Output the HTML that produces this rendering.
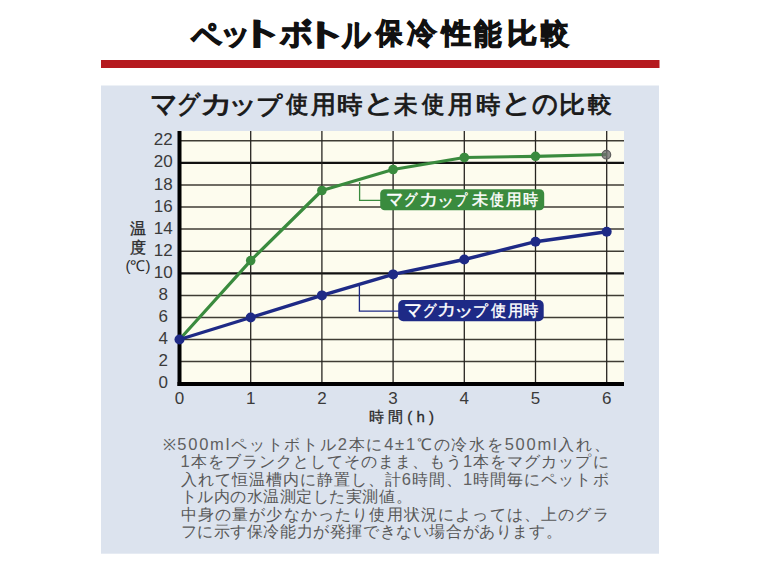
<!DOCTYPE html>
<html><head><meta charset="utf-8"><style>
html,body{margin:0;padding:0;background:#fff;}
body{width:760px;height:570px;overflow:hidden;position:relative;font-family:"Liberation Sans",sans-serif;}
svg{position:absolute;left:0;top:0;}
</style></head><body>
<svg width="760" height="570" viewBox="0 0 760 570" font-family="Liberation Sans, sans-serif">
<rect x="0" y="0" width="760" height="570" fill="#ffffff"/>
<g id="titleg"><text transform="translate(190.52 46.55) scale(0.92 1)" font-size="32.92" font-weight="bold" fill="#111" stroke="#111" stroke-width="1.2">ペ</text><text transform="translate(220.45 43.6) scale(1.014 1)" font-size="30.21" font-weight="bold" fill="#111" stroke="#111" stroke-width="1.2">ッ</text><text transform="translate(237.93 43.0) scale(1.487 1)" font-size="31.24" font-weight="bold" fill="#111" stroke="#111" stroke-width="1.2">ト</text><text transform="translate(279.7 44.1) scale(1.045 1)" font-size="30.54" font-weight="bold" fill="#111" stroke="#111" stroke-width="1.2">ボ</text><text transform="translate(301.51 43.9) scale(1.529 1)" font-size="29.98" font-weight="bold" fill="#111" stroke="#111" stroke-width="1.2">ト</text><text transform="translate(342.13 45.8) scale(0.833 1)" font-size="34.2" font-weight="bold" fill="#111" stroke="#111" stroke-width="1.2">ル</text><text transform="translate(376.41 43.25) scale(0.913 1)" font-size="29.19" font-weight="bold" fill="#111" stroke="#111" stroke-width="1.2">保</text><text transform="translate(407.3 43.25) scale(1.013 1)" font-size="29.19" font-weight="bold" fill="#111" stroke="#111" stroke-width="1.2">冷</text><text transform="translate(442.47 43.25) scale(1.037 1)" font-size="28.22" font-weight="bold" fill="#111" stroke="#111" stroke-width="1.2">性</text><text transform="translate(474.1 44.25) scale(0.947 1)" font-size="29.19" font-weight="bold" fill="#111" stroke="#111" stroke-width="1.2">能</text><text transform="translate(506.93 43.25) scale(1.074 1)" font-size="28.22" font-weight="bold" fill="#111" stroke="#111" stroke-width="1.2">比</text><text transform="translate(541.39 43.25) scale(0.99 1)" font-size="28.22" font-weight="bold" fill="#111" stroke="#111" stroke-width="1.2">較</text></g>
<rect x="101" y="60" width="558.5" height="8" fill="#b51a1f"/>
<rect x="101" y="85.5" width="558" height="468.2" fill="#dce3ee"/>
<g id="subg"><text transform="translate(150.14 114.5) scale(0.881 1)" font-size="30.97" fill="#1a1a1a" stroke="#1a1a1a" stroke-width="0.9">マ</text><text transform="translate(177.33 113.05) scale(0.884 1)" font-size="26.18" fill="#1a1a1a" stroke="#1a1a1a" stroke-width="0.9">グ</text><text transform="translate(199.89 113.0) scale(1.255 1)" font-size="26.45" fill="#1a1a1a" stroke="#1a1a1a" stroke-width="0.9">カ</text><text transform="translate(227.99 113.25) scale(1.153 1)" font-size="25.3" fill="#1a1a1a" stroke="#1a1a1a" stroke-width="0.9">ッ</text><text transform="translate(255.55 113.55) scale(1.074 1)" font-size="23.9" fill="#1a1a1a" stroke="#1a1a1a" stroke-width="0.9">プ</text><text transform="translate(285.5 112.3) scale(0.968 1)" font-size="23.0" fill="#1a1a1a" stroke="#1a1a1a" stroke-width="0.9">使</text><text transform="translate(310.6 112.8) scale(0.996 1)" font-size="25.19" fill="#1a1a1a" stroke="#1a1a1a" stroke-width="0.9">用</text><text transform="translate(337.14 113.1) scale(1.061 1)" font-size="24.25" fill="#1a1a1a" stroke="#1a1a1a" stroke-width="0.9">時</text><text transform="translate(362.58 112.05) scale(1.229 1)" font-size="26.34" fill="#1a1a1a" stroke="#1a1a1a" stroke-width="0.9">と</text><text transform="translate(393.5 113.25) scale(0.979 1)" font-size="24.36" fill="#1a1a1a" stroke="#1a1a1a" stroke-width="0.9">未</text><text transform="translate(421.6 112.3) scale(0.968 1)" font-size="23.0" fill="#1a1a1a" stroke="#1a1a1a" stroke-width="0.9">使</text><text transform="translate(448.4 112.8) scale(0.996 1)" font-size="25.19" fill="#1a1a1a" stroke="#1a1a1a" stroke-width="0.9">用</text><text transform="translate(476.29 112.85) scale(1.013 1)" font-size="24.36" fill="#1a1a1a" stroke="#1a1a1a" stroke-width="0.9">時</text><text transform="translate(501.18 111.95) scale(1.156 1)" font-size="26.56" fill="#1a1a1a" stroke="#1a1a1a" stroke-width="0.9">と</text><text transform="translate(531.55 113.05) scale(0.948 1)" font-size="27.19" fill="#1a1a1a" stroke="#1a1a1a" stroke-width="0.9">の</text><text transform="translate(558.84 112.85) scale(1.081 1)" font-size="23.52" fill="#1a1a1a" stroke="#1a1a1a" stroke-width="0.9">比</text><text transform="translate(587.6 111.85) scale(1.077 1)" font-size="22.5" fill="#1a1a1a" stroke="#1a1a1a" stroke-width="0.9">較</text></g>
<rect x="179" y="131" width="445" height="253" fill="#fdfcee"/>
<line x1="181" y1="361.6" x2="624" y2="361.6" stroke="#3f3c34" stroke-width="1.5"/><line x1="181" y1="339.5" x2="624" y2="339.5" stroke="#3f3c34" stroke-width="1.5"/><line x1="181" y1="317.5" x2="624" y2="317.5" stroke="#3f3c34" stroke-width="1.5"/><line x1="181" y1="295.4" x2="624" y2="295.4" stroke="#3f3c34" stroke-width="1.5"/><line x1="181" y1="273.3" x2="624" y2="273.3" stroke="#111" stroke-width="2.2"/><line x1="181" y1="251.2" x2="624" y2="251.2" stroke="#3f3c34" stroke-width="1.5"/><line x1="181" y1="229.1" x2="624" y2="229.1" stroke="#3f3c34" stroke-width="1.5"/><line x1="181" y1="207.1" x2="624" y2="207.1" stroke="#3f3c34" stroke-width="1.5"/><line x1="181" y1="185.0" x2="624" y2="185.0" stroke="#3f3c34" stroke-width="1.5"/><line x1="181" y1="162.9" x2="624" y2="162.9" stroke="#111" stroke-width="2.2"/><line x1="181" y1="140.8" x2="624" y2="140.8" stroke="#3f3c34" stroke-width="1.5"/><line x1="250.7" y1="131" x2="250.7" y2="384" stroke="#262420" stroke-width="1.3"/><line x1="321.9" y1="131" x2="321.9" y2="384" stroke="#262420" stroke-width="1.3"/><line x1="393.1" y1="131" x2="393.1" y2="384" stroke="#262420" stroke-width="1.3"/><line x1="464.3" y1="131" x2="464.3" y2="384" stroke="#262420" stroke-width="1.3"/><line x1="535.5" y1="131" x2="535.5" y2="384" stroke="#262420" stroke-width="1.3"/><line x1="606.7" y1="131" x2="606.7" y2="384" stroke="#262420" stroke-width="1.3"/>
<g font-size="17" fill="#3a3a3a"><text id="yl0" x="163.2" y="388.2" text-anchor="middle">0</text><text id="yl2" x="163.2" y="366.1" text-anchor="middle">2</text><text id="yl4" x="163.2" y="344.0" text-anchor="middle">4</text><text id="yl6" x="163.2" y="322.0" text-anchor="middle">6</text><text id="yl8" x="163.2" y="299.9" text-anchor="middle">8</text><text id="yl10" x="163.2" y="277.8" text-anchor="middle">10</text><text id="yl12" x="163.2" y="255.7" text-anchor="middle">12</text><text id="yl14" x="163.2" y="233.6" text-anchor="middle">14</text><text id="yl16" x="163.2" y="211.6" text-anchor="middle">16</text><text id="yl18" x="163.2" y="189.5" text-anchor="middle">18</text><text id="yl20" x="163.2" y="167.4" text-anchor="middle">20</text><text id="yl22" x="163.2" y="145.3" text-anchor="middle">22</text><text id="xl0" x="179.5" y="403.5" text-anchor="middle">0</text><text id="xl1" x="250.7" y="403.5" text-anchor="middle">1</text><text id="xl2" x="321.9" y="403.5" text-anchor="middle">2</text><text id="xl3" x="393.1" y="403.5" text-anchor="middle">3</text><text id="xl4" x="464.3" y="403.5" text-anchor="middle">4</text><text id="xl5" x="535.5" y="403.5" text-anchor="middle">5</text><text id="xl6" x="606.7" y="403.5" text-anchor="middle">6</text></g>
<g font-size="15" fill="#2a2a2a">
<text id="on" x="137.5" y="233.5" text-anchor="middle" font-size="15.5" stroke="#2a2a2a" stroke-width="0.35">温</text>
<text id="do" x="137.5" y="252.5" text-anchor="middle" font-size="15.5" stroke="#2a2a2a" stroke-width="0.35">度</text>
<text id="deg" x="138" y="270.5" text-anchor="middle" font-size="15">(℃)</text>
<text id="jikan" x="369" y="422" textLength="65" lengthAdjust="spacing" stroke="#2a2a2a" stroke-width="0.3">時間(h)</text>
</g>
<rect x="177.5" y="131" width="4" height="255" fill="#000"/>
<rect x="177.5" y="382" width="446.5" height="4" fill="#000"/>
<path d="M359.6 182 V200.3 H381" fill="none" stroke="#3a8b3e" stroke-width="1.3"/>
<path d="M359.4 286 V311.1 H399" fill="none" stroke="#1e2a86" stroke-width="1.3"/>
<polyline points="179.5,339.5 250.7,260.6 321.9,190.5 393.1,169.5 464.3,157.5 535.5,156.3 606.7,154.5" fill="none" stroke="#3a8b3e" stroke-width="3.2" stroke-linejoin="round"/>
<circle cx="250.7" cy="260.6" r="4.8" fill="#3a8b3e"/><circle cx="321.9" cy="190.5" r="4.8" fill="#3a8b3e"/><circle cx="393.1" cy="169.5" r="4.8" fill="#3a8b3e"/><circle cx="464.3" cy="157.5" r="4.8" fill="#3a8b3e"/><circle cx="535.5" cy="156.3" r="4.8" fill="#3a8b3e"/>
<circle cx="606.4" cy="154.7" r="4.3" fill="#6e6e6e" fill-opacity="0.8" stroke="#5e5e5e" stroke-width="1.2"/>
<polyline points="179.5,339.5 250.7,317.5 321.9,295.4 393.1,274.4 464.3,259.5 535.5,241.7 606.7,231.8" fill="none" stroke="#1e2a86" stroke-width="3.4" stroke-linejoin="round"/>
<circle cx="179.5" cy="339.5" r="5" fill="#1e2a86"/><circle cx="250.7" cy="317.5" r="5" fill="#1e2a86"/><circle cx="321.9" cy="295.4" r="5" fill="#1e2a86"/><circle cx="393.1" cy="274.4" r="5" fill="#1e2a86"/><circle cx="464.3" cy="259.5" r="5" fill="#1e2a86"/><circle cx="535.5" cy="241.7" r="5" fill="#1e2a86"/><circle cx="606.7" cy="231.8" r="5" fill="#1e2a86"/>
<rect x="380.2" y="189.2" width="164" height="21" rx="4.5" fill="#3a8b3e"/>
<g id="lgg"><text transform="translate(386.33 205.85) scale(0.871 1)" font-size="20.3" fill="#fff" stroke="#fff" stroke-width="0.4">マ</text><text transform="translate(404.26 205.35) scale(0.84 1)" font-size="15.81" fill="#fff" stroke="#fff" stroke-width="0.4">グ</text><text transform="translate(418.67 204.85) scale(1.129 1)" font-size="16.94" fill="#fff" stroke="#fff" stroke-width="0.4">カ</text><text transform="translate(436.99 205.75) scale(1.155 1)" font-size="14.72" fill="#fff" stroke="#fff" stroke-width="0.4">ッ</text><text transform="translate(454.78 205.35) scale(0.82 1)" font-size="14.82" fill="#fff" stroke="#fff" stroke-width="0.4">プ</text><text transform="translate(471.6 205.35) scale(1.013 1)" font-size="15.81" fill="#fff" stroke="#fff" stroke-width="0.4">未</text><text transform="translate(490.0 205.35) scale(0.88 1)" font-size="15.81" fill="#fff" stroke="#fff" stroke-width="0.4">使</text><text transform="translate(506.3 205.35) scale(0.98 1)" font-size="15.81" fill="#fff" stroke="#fff" stroke-width="0.4">用</text><text transform="translate(523.25 205.35) scale(0.947 1)" font-size="15.81" fill="#fff" stroke="#fff" stroke-width="0.4">時</text></g>
<rect x="398.2" y="300" width="145.5" height="21.2" rx="5" fill="#1e2a86"/>
<g id="lbg"><text transform="translate(404.43 317.15) scale(0.872 1)" font-size="21.23" fill="#fff" stroke="#fff" stroke-width="0.4">マ</text><text transform="translate(422.86 315.85) scale(0.84 1)" font-size="15.81" fill="#fff" stroke="#fff" stroke-width="0.4">グ</text><text transform="translate(437.27 315.35) scale(1.129 1)" font-size="16.94" fill="#fff" stroke="#fff" stroke-width="0.4">カ</text><text transform="translate(454.44 316.0) scale(1.32 1)" font-size="15.5" fill="#fff" stroke="#fff" stroke-width="0.4">ッ</text><text transform="translate(473.02 315.85) scale(0.98 1)" font-size="14.82" fill="#fff" stroke="#fff" stroke-width="0.4">プ</text><text transform="translate(491.3 315.85) scale(0.947 1)" font-size="15.81" fill="#fff" stroke="#fff" stroke-width="0.4">使</text><text transform="translate(508.2 315.85) scale(0.947 1)" font-size="15.81" fill="#fff" stroke="#fff" stroke-width="0.4">用</text><text transform="translate(522.95 315.85) scale(0.953 1)" font-size="15.81" fill="#fff" stroke="#fff" stroke-width="0.4">時</text></g>
<g font-size="15.5" fill="#585858"><text id="n0" x="162.5" y="449.5" textLength="447.5" lengthAdjust="spacing">※<tspan font-size="16.5" fill="#606060">500ml</tspan>ペットボトル<tspan font-size="16.5" fill="#606060">2</tspan>本に<tspan font-size="16.5" fill="#606060">4±1</tspan>℃の冷水を<tspan font-size="16.5" fill="#606060">500ml</tspan>入れ、</text><text id="n1" x="180.5" y="467" textLength="428" lengthAdjust="spacing"><tspan font-size="16.5" fill="#606060">1</tspan>本をブランクとしてそのまま、もう<tspan font-size="16.5" fill="#606060">1</tspan>本をマグカップに</text><text id="n2" x="180.5" y="484.5" textLength="428" lengthAdjust="spacing">入れて恒温槽内に静置し、計<tspan font-size="16.5" fill="#606060">6</tspan>時間、<tspan font-size="16.5" fill="#606060">1</tspan>時間毎にペットボ</text><text id="n3" x="180.5" y="502" textLength="231" lengthAdjust="spacing">トル内の水温測定した実測値。</text><text id="n4" x="180.5" y="519.5" textLength="428" lengthAdjust="spacing">中身の量が少なかったり使用状況によっては、上のグラ</text><text id="n5" x="180.5" y="537" textLength="381" lengthAdjust="spacing">フに示す保冷能力が発揮できない場合があります。</text></g>
</svg>
</body></html>
